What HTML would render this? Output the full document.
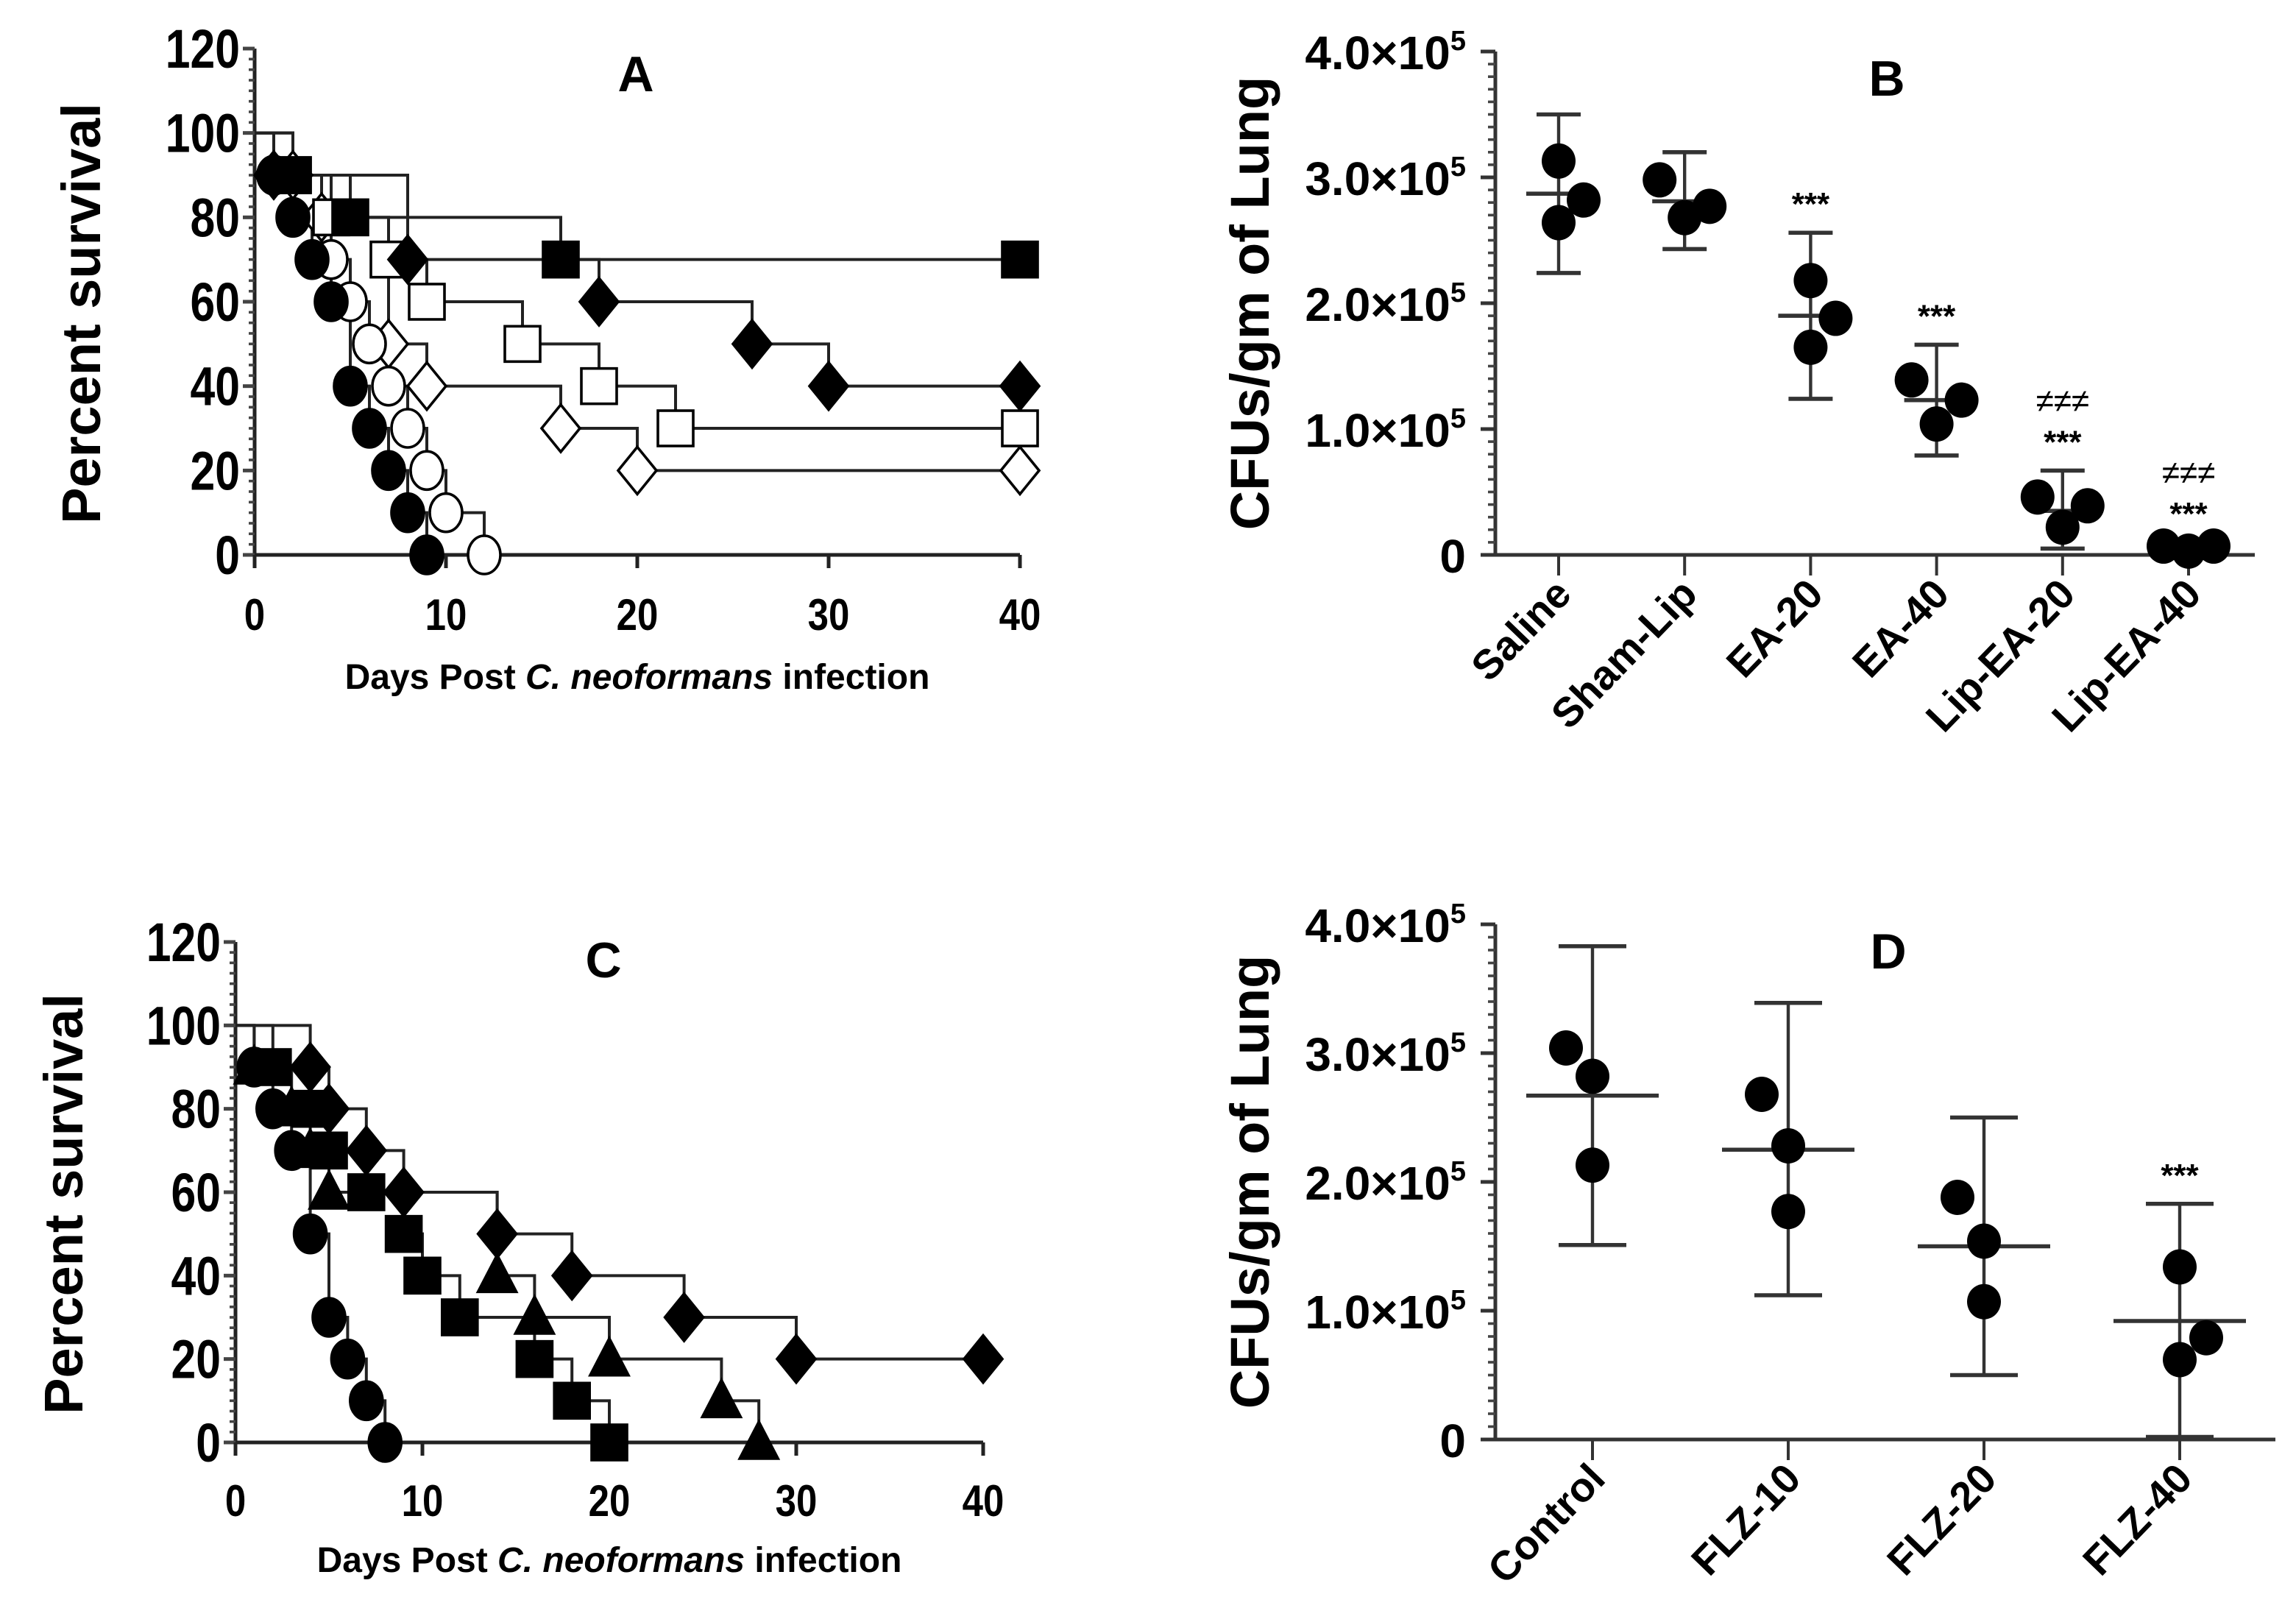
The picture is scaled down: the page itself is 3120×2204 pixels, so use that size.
<!DOCTYPE html>
<html><head><meta charset="utf-8"><style>
html,body{margin:0;padding:0;background:#fff;}
svg{display:block;}
text{font-family:"Liberation Sans",Arial,sans-serif;fill:#000;}
</style></head><body>
<svg id="fig" xmlns="http://www.w3.org/2000/svg" width="3120" height="2204" viewBox="0 0 1560 1102">
<rect width="1560" height="1102" fill="#fff"/>
</svg>
<script>
// ---- Panel A data ----
const aDaysFilledCircle = [1,2,3,4,5,6,7,8,9];
const aValsFilledCircle = [90,80,70,60,40,30,20,10,0];
const aDaysOpenCircle = [1,4,5,6,7,8,9,10,12];
const aValsOpenCircle = [90,70,60,50,40,30,20,10,0];
const aDaysFilledSquare = [2,5,16,40];
const aValsFilledSquare = [90,80,70,70];
const aDaysFilledDiamond = [1,8,18,26,30,40];
const aValsFilledDiamond = [90,70,60,50,40,40];
const aDaysOpenSquare = [2,4,7,9,14,18,22,40];
const aValsOpenSquare = [90,80,70,60,50,40,30,30];
const aDaysOpenDiamond = [2,3.5,7,9,16,20,40];
const aValsOpenDiamond = [90,80,50,40,30,20,20];
// ---- Panel C data ----
const cDaysCircle = [1,2,3,4,5,6,7,8];
const cValsCircle = [90,80,70,50,30,20,10,0];
const cDaysSquare = [2,4,5,7,9,10,12,16,18,20];
const cValsSquare = [90,80,70,60,50,40,30,20,10,0];
const cDaysTriangle = [1,3,4,5,14,16,20,26,28];
const cValsTriangle = [90,80,70,60,40,30,20,10,0];
const cDaysDiamond = [4,5,7,9,14,18,24,30,40];
const cValsDiamond = [90,80,70,60,50,40,30,20,20];
const survTicksY = [0,20,40,60,80,100,120];
const survTicksX = [0,10,20,30,40];
// ---- Panel B data (x10^5 CFU) ----
const bCategories = ["Saline","Sham-Lip","EA-20","EA-40","Lip-EA-20","Lip-EA-40"];
const bPoints = [[3.13,2.64,2.82],[2.98,2.68,2.77],[2.18,1.65,1.88],[1.39,1.04,1.23],[0.46,0.22,0.39],[0.07,0.03,0.07]];
const bMeans = [2.87,2.81,1.90,1.23,0.35,0.06];
const bSdLow = [2.24,2.43,1.24,0.79,0.05,0.0];
const bSdHigh = [3.50,3.20,2.56,1.67,0.67,0.10];
const bStars = ["","","***","***","***","***"];
const bHashes = ["","","","","≠≠≠","≠≠≠"];
// ---- Panel D data ----
const dCategories = ["Control","FLZ-10","FLZ-20","FLZ-40"];
const dPoints = [[3.04,2.82,2.13],[2.68,2.28,1.77],[1.88,1.54,1.07],[1.34,0.79,0.62]];
const dMeans = [2.67,2.25,1.50,0.92];
const dSdLow = [1.51,1.12,0.50,0.02];
const dSdHigh = [3.83,3.39,2.50,1.83];
const dStars = ["","","","***"];
const cfuTicks = [0,1,2,3,4];

// layout-only jitter offsets (px) for dot placement
const bJitter = [[0,0,17],[-17,0,17],[0,0,17],[-17,0,17],[-17,0,17],[-17,0,17]];
const dJitter = [[-18,0,0],[-18,0,0],[-18,0,0],[0,18,0]];

const NS="http://www.w3.org/2000/svg";
const svg=document.getElementById('fig');
function mk(tag,attrs,parent){const e=document.createElementNS(NS,tag);for(const k in attrs)e.setAttribute(k,attrs[k]);(parent||svg).appendChild(e);return e;}

function survivalPanel(o){
  const g=mk('g',{});
  
  
  const X=d=>o.x0+(o.x1-o.x0)*d/40, Y=v=>o.y0-(o.y0-o.y1)*v/120;
  const ya=mk('line',{x1:o.x0,y1:Y(0),x2:o.x0,y2:Y(120),stroke:'#222','stroke-width':2.5},g);
  
  const xa=mk('line',{x1:o.x0,y1:Y(0),x2:X(40),y2:Y(0),stroke:'#222','stroke-width':2.5},g);
  
  for(let v=0;v<=120;v+=2.5){const maj=v%20===0;mk('line',{x1:o.x0-(maj?8:4),y1:Y(v),x2:o.x0,y2:Y(v),stroke:'#444','stroke-width':maj?2.5:1.8},g);}
  survTicksY.forEach(v=>{const t=mk('text',{x:o.x0-10,y:Y(v)+13,'text-anchor':'end','font-size':37,'font-weight':'bold',transform:`translate(${o.x0-10},0) scale(0.82,1) translate(${-(o.x0-10)},0)`},g);t.textContent=v;
    });
  survTicksX.forEach(d=>{mk('line',{x1:X(d),y1:Y(0),x2:X(d),y2:Y(0)+9,stroke:'#222','stroke-width':2.5},g);
    const t=mk('text',{x:X(d),y:o.xLabelY,'text-anchor':'middle','font-size':30,'font-weight':'bold',transform:`translate(${X(d)},0) scale(0.85,1) translate(${-X(d)},0)`},g);t.textContent=d;
    });
  const yt=mk('text',{x:0,y:0,'text-anchor':'middle','font-size':37,'font-weight':'bold',transform:`translate(${o.yTitleX},${(Y(0)+Y(120))/2+8}) rotate(-90)`},g);
  yt.textContent='Percent survival';
  const xt=mk('text',{x:(o.x0+X(40))/2,y:o.xTitleY,'text-anchor':'middle','font-size':24,'font-weight':'bold'},g);
  xt.innerHTML='Days Post <tspan font-style="italic">C. neoformans</tspan> infection';
  
  const pl=mk('text',{x:o.labX,y:o.labY,'text-anchor':'middle','font-size':34,'font-weight':'bold'},g);
  pl.textContent=o.label;
  o.series.forEach(s=>{
    let d=`M${X(0)},${Y(100)}`;
    s.days.forEach((t,i)=>{d+=` H${X(t)} V${Y(s.vals[i])}`;});
    const p=mk('path',{d:d,fill:'none',stroke:'#222','stroke-width':2},g);
    
  });
  o.series.forEach(s=>{
    s.days.forEach((t,i)=>{
      const cx=X(t),cy=Y(s.vals[i]);const fill=s.filled?'#000':'#fff';let m;
      if(s.shape==='circle')m=mk('ellipse',{cx:cx,cy:cy,rx:11,ry:13,fill:fill,stroke:'#000','stroke-width':1.8},g);
      else if(s.shape==='square')m=mk('rect',{x:cx-12,y:cy-12,width:24,height:24,fill:fill,stroke:'#000','stroke-width':1.8},g);
      else if(s.shape==='diamond')m=mk('polygon',{points:`${cx},${cy-16} ${cx+13},${cy} ${cx},${cy+16} ${cx-13},${cy}`,fill:fill,stroke:'#000','stroke-width':1.8},g);
      else m=mk('polygon',{points:`${cx},${cy-14} ${cx+13},${cy+11} ${cx-13},${cy+11}`,fill:fill,stroke:'#000','stroke-width':1.8},g);
      
    });
  });
}

survivalPanel({name:'panel-a-survival',label:'A',labX:432,labY:62,x0:173,x1:693,y0:377,y1:33,xLabelY:428,xTitleY:468,yTitleX:68,
  series:[
    {name:'open-diamond',shape:'diamond',filled:false,days:aDaysOpenDiamond,vals:aValsOpenDiamond},
    {name:'open-square',shape:'square',filled:false,days:aDaysOpenSquare,vals:aValsOpenSquare},
    {name:'open-circle',shape:'circle',filled:false,days:aDaysOpenCircle,vals:aValsOpenCircle},
    {name:'filled-diamond',shape:'diamond',filled:true,days:aDaysFilledDiamond,vals:aValsFilledDiamond},
    {name:'filled-square',shape:'square',filled:true,days:aDaysFilledSquare,vals:aValsFilledSquare},
    {name:'filled-circle',shape:'circle',filled:true,days:aDaysFilledCircle,vals:aValsFilledCircle}]});
survivalPanel({name:'panel-c-survival',label:'C',labX:410,labY:664,x0:160,x1:668,y0:980,y1:640,xLabelY:1030,xTitleY:1068,yTitleX:56,
  series:[
    {name:'diamond',shape:'diamond',filled:true,days:cDaysDiamond,vals:cValsDiamond},
    {name:'triangle',shape:'triangle',filled:true,days:cDaysTriangle,vals:cValsTriangle},
    {name:'square',shape:'square',filled:true,days:cDaysSquare,vals:cValsSquare},
    {name:'circle',shape:'circle',filled:true,days:cDaysCircle,vals:cValsCircle}]});

function cfuPanel(o){
  const g=mk('g',{});
  
  
  const X=i=>o.c0+i*o.step, Y=v=>o.y0-(o.y0-o.y1)*v/4;
  const ya=mk('line',{x1:o.x0,y1:Y(0),x2:o.x0,y2:Y(4),stroke:'#333','stroke-width':2.5},g);
  
  const xa=mk('line',{x1:o.x0-10,y1:Y(0),x2:o.xEnd,y2:Y(0),stroke:'#333','stroke-width':2.5},g);
  
  for(let v=0;v<=4.001;v+=0.1){mk('line',{x1:o.x0-5,y1:Y(v),x2:o.x0,y2:Y(v),stroke:'#444','stroke-width':1.8},g);}
  cfuTicks.forEach(v=>{mk('line',{x1:o.x0-10,y1:Y(v),x2:o.x0,y2:Y(v),stroke:'#333','stroke-width':2.5},g);
    const t=mk('text',{x:o.x0-20,y:Y(v)+12,'text-anchor':'end','font-size':32,'font-weight':'bold'},g);
    if(v===0)t.textContent='0';else t.innerHTML=v.toFixed(1)+'×10<tspan dy="-13" font-size="19">5</tspan>';
    });
  const yt=mk('text',{x:0,y:0,'text-anchor':'middle','font-size':37,'font-weight':'bold',transform:`translate(${o.x0-154},${(Y(0)+Y(4))/2}) rotate(-90)`},g);
  yt.textContent='CFUs/gm of Lung';
  const pl=mk('text',{x:o.labX,y:Y(4)+30,'text-anchor':'middle','font-size':34,'font-weight':'bold'},g);
  pl.textContent=o.label;
  o.cats.forEach((c,i)=>{
    const cx=X(i);
    mk('line',{x1:cx,y1:Y(0),x2:cx,y2:Y(0)+14,stroke:'#333','stroke-width':2},g);
    const t=mk('text',{x:0,y:0,'text-anchor':'end','font-size':28,'font-weight':'bold',transform:`translate(${cx+10},${Y(0)+28}) rotate(-46)`},g);
    t.textContent=c;
    const eb=mk('line',{x1:cx,y1:Y(o.lo[i]),x2:cx,y2:Y(o.hi[i]),stroke:'#333','stroke-width':2.2},g);
    
    [o.lo[i],o.hi[i]].forEach(v=>{const cap=mk('line',{x1:cx-o.cap,y1:Y(v),x2:cx+o.cap,y2:Y(v),stroke:'#333','stroke-width':2.8},g);
      });
    const ml=mk('line',{x1:cx-o.meanW,y1:Y(o.means[i]),x2:cx+o.meanW,y2:Y(o.means[i]),stroke:'#333','stroke-width':2.8},g);
    
    o.pts[i].forEach((v,j)=>{const dot=mk('ellipse',{cx:cx+o.jit[i][j],cy:Y(v),rx:11.5,ry:12,fill:'#000'},g);
      });
    const top=o.hi[i];
    if(o.stars[i]){const s=mk('text',{x:cx,y:Y(top)-12,'text-anchor':'middle','font-size':22,'font-weight':'bold',fill:'#333'},g);s.textContent=o.stars[i];
      }
    if(o.hashes&&o.hashes[i]){const s=mk('text',{x:cx,y:Y(top)-40,'text-anchor':'middle','font-size':22,fill:'#777'},g);s.textContent=o.hashes[i];
      }
  });
}
cfuPanel({name:'panel-b-cfu',label:'B',labX:1282,x0:1016,xEnd:1532,c0:1059,step:85.6,y0:377,y1:35,cats:bCategories,pts:bPoints,means:bMeans,lo:bSdLow,hi:bSdHigh,stars:bStars,hashes:bHashes,jit:bJitter,cap:15,meanW:22});
cfuPanel({name:'panel-d-cfu',label:'D',labX:1283,x0:1016,xEnd:1546,c0:1082,step:133,y0:978,y1:628,cats:dCategories,pts:dPoints,means:dMeans,lo:dSdLow,hi:dSdHigh,stars:dStars,hashes:null,jit:dJitter,cap:23,meanW:45});
</script>
</body></html>
